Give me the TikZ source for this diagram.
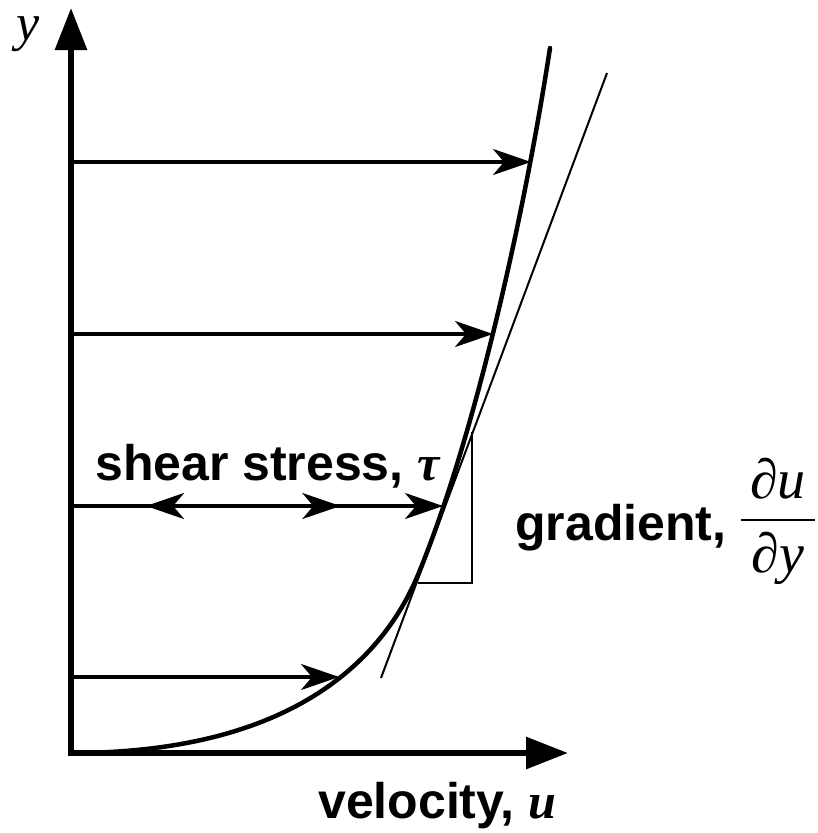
\documentclass[tikz,border=0pt]{standalone}
\usepackage{fontspec}
\setmainfont{Liberation Sans}
\newfontfamily\serifmath{Liberation Serif}
\usepackage{tikz}
\usetikzlibrary{arrows.meta, positioning, calc, decorations.markings}

\begin{document}
\begin{tikzpicture}[
    x=1pt, y=-1pt,
    axis/.style={line width=6pt, -{Triangle[length=42pt, width=31pt]}},
    flow/.style={line width=3.5pt, -{Stealth[length=38pt, width=26pt, inset=11pt]}},
    profile/.style={line width=4.5pt, line cap=round},
    thinline/.style={line width=2pt},
    lbl/.style={font=\fontsize{50}{60}\selectfont\bfseries, inner sep=0pt},
    mathlbl/.style={font=\fontsize{56}{66}\selectfont\serifmath\itshape, inner sep=0pt},
]
    \useasboundingbox (0,0) rectangle (817,833);

    % Axes
    \coordinate (origin) at (71,753);
    \coordinate (ytop) at (71,8);
    \coordinate (xend) at (568,753);
    \draw[axis, shorten <=-3pt] (origin) -- (ytop);
    \draw[axis, shorten <=-3pt] (origin) -- (xend);
    \node[mathlbl, font=\fontsize{52}{60}\selectfont\serifmath\itshape, anchor=base west] (ylabel) at (16,40) {y};
    \node[lbl, anchor=base west] (xlabel) at (318,818) {velocity, {\serifmath\itshape u}};

    % Velocity profile
    \coordinate (bend) at (420,570);
    \coordinate (edge) at (550,48);
    \draw[profile] (origin) .. controls (278,753) and (380,671) .. (bend)
        .. controls (476,432) and (525,211) .. (edge);

    % Velocity arrows
    \foreach \n/\y/\x in {a/162/531, b/334/493, c/506/443, d/677/339} {
        \coordinate (wall\n) at (71,\y);
        \coordinate (tip\n) at (\x,\y);
    }
    \draw[flow] (walla) -- (tipa);
    \draw[flow] (wallb) -- (tipb);
    \draw[flow] (walld) -- (tipd);
    \draw[flow, postaction={decorate}, decoration={markings,
          mark=at position 0.304 with {\arrow{Stealth[length=38pt, width=26pt, inset=11pt, reversed]}},
          mark=at position 0.724 with {\arrow{Stealth[length=38pt, width=26pt, inset=11pt]}}}]
        (wallc) -- (tipc);
    \node[lbl, anchor=base west] (shear) at (95,480) {shear stress, {\serifmath\itshape τ}};

    % Tangent and gradient triangle
    \coordinate (tanlow) at (381,678);
    \coordinate (tanhigh) at (607,73);
    \coordinate (trileft) at (418,583);
    \coordinate (tricorner) at (472,583);
    \coordinate (tritop) at (472,432);
    \draw[thinline] (tanlow) -- (tanhigh);
    \draw[thinline] (trileft) -- (tricorner) -- (tritop);

    % Gradient label
    \node[lbl, anchor=base west] (grad) at (515,540) {gradient,};
    \coordinate (barleft) at (741,520);
    \coordinate (barright) at (815,520);
    \draw[line width=2.6pt] (barleft) -- (barright);
    \node[mathlbl, anchor=base] (numer) at (778,498) {∂u};
    \node[mathlbl, anchor=base] (denom) at (778,572) {∂y};
\end{tikzpicture}
\end{document}
